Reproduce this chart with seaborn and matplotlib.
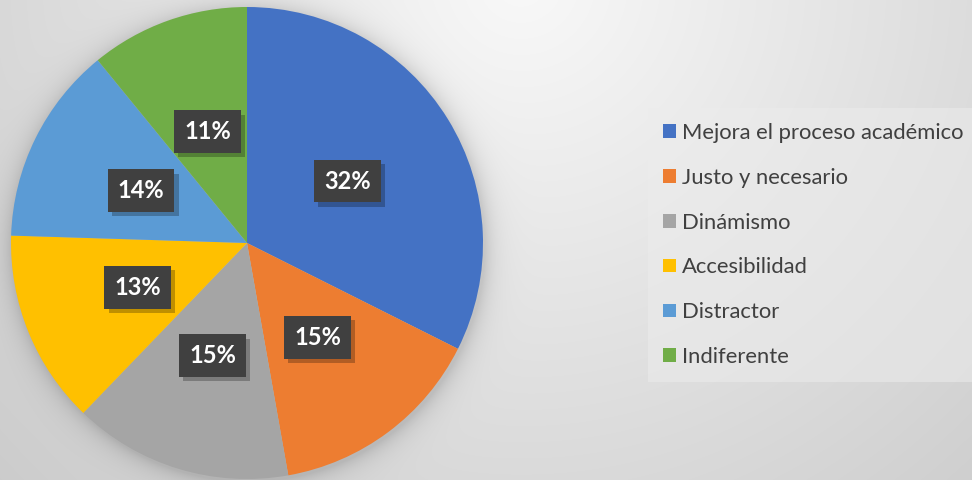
import numpy as np
import matplotlib
matplotlib.use("Agg")
import matplotlib.pyplot as plt
import matplotlib.patheffects as pe
from matplotlib.patches import Patch
import seaborn as sns

categories = ["Mejora el proceso académico", "Justo y necesario", "Dinámismo",
              "Accesibilidad", "Distractor", "Indiferente"]
values = [32.4, 14.8, 15.0, 13.3, 13.6, 10.9]
colors = ["#4472c4", "#ed7d31", "#a5a5a5", "#ffc000", "#5b9bd5", "#70ad47"]

sns.set_theme(style="white")
plt.rcParams["font.family"] = ["Lato", "DejaVu Sans"]

W, H = 972, 480
fig = plt.figure(figsize=(W / 100, H / 100), dpi=100)
ax = fig.add_axes([0, 0, 1, 1])

# pie geometry (pixels)
cx, cy, R = 247, H - 243, 236

# radial gray background with a soft shadow around the pie
yy, xx = np.mgrid[0:H, 0:W]
yy_up = H - yy
d = np.hypot(xx - 520, yy_up - (H + 20))
bg = 0.975 - (0.975 - 0.80) * np.clip(d / 720, 0, 1)
dc = np.hypot(xx - (cx + 1), yy_up - (cy - 2)) - R
shadow = np.where(dc > 0, 0.13 * np.exp(-dc / 11.0), 0.13)
bg = bg - shadow
img = np.dstack([bg, bg, bg])
ax.imshow(img, extent=(0, W, 0, H), origin="upper", zorder=0, aspect="auto")

wedges, texts, autotexts = ax.pie(
    values, colors=colors, startangle=90, counterclock=False,
    center=(cx, cy), radius=R, autopct="%.0f%%", pctdistance=0.5,
    wedgeprops=dict(linewidth=0), frame=True,
)
ax.set_xlim(0, W)
ax.set_ylim(0, H)
ax.axis("off")
for w in wedges:
    w.set_zorder(2)

for t in autotexts:
    t.set_color("white")
    t.set_fontsize(17)
    t.set_fontweight("bold")
    t.set_zorder(5)
    t.set_bbox(dict(boxstyle="square,pad=0.42", fc="#404040", ec="none"))
    t.get_bbox_patch().set_path_effects(
        [pe.SimplePatchShadow(offset=(3, -3), alpha=0.25, shadow_rgbFace="#000000"), pe.Normal()]
    )

handles = [Patch(facecolor=c, edgecolor="none") for c in colors]
leg = ax.legend(
    handles, categories, loc="upper left",
    bbox_to_anchor=(648 / W, 1 - 108 / H), bbox_transform=fig.transFigure,
    fontsize=15.8, frameon=True, fancybox=False, borderpad=0.68,
    labelspacing=1.13, handlelength=0.58, handleheight=0.58,
    handletextpad=0.3, borderaxespad=0,
)
frame = leg.get_frame()
frame.set_facecolor("#ececec")
frame.set_alpha(0.55)
frame.set_edgecolor("none")
for txt in leg.get_texts():
    txt.set_color("#404040")

fig.savefig("out.png", dpi=100)
